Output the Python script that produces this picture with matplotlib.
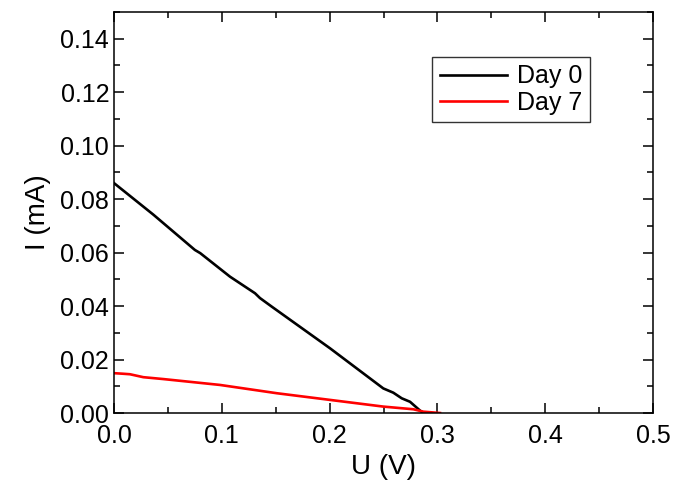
import numpy as np
import matplotlib.pyplot as plt
from matplotlib.ticker import MultipleLocator

plt.rcParams['font.family'] = ['Liberation Sans', 'DejaVu Sans']

## I-U curves
u_day0 = [0.0, 0.0365, 0.075, 0.080, 0.1076, 0.1308, 0.1354, 0.1463, 0.2004, 0.2498, 0.2591, 0.2669, 0.2746, 0.2839, 0.287]
i_day0 = [0.086, 0.0742, 0.0610, 0.0598, 0.0510, 0.0448, 0.0430, 0.0398, 0.0242, 0.0092, 0.0076, 0.0055, 0.0042, 0.0009, 0.0]

u_day7 = [0.0, 0.0080, 0.0148, 0.0272, 0.0457, 0.0983, 0.151, 0.2004, 0.2498, 0.2777, 0.287, 0.3024]
i_day7 = [0.0149, 0.0147, 0.0145, 0.0134, 0.0127, 0.0105, 0.0074, 0.0049, 0.0024, 0.0014, 0.0005, 0.0]

fig = plt.figure(figsize=(6.73, 4.97), dpi=100)
ax = fig.add_axes([0.1694, 0.169, 0.8009, 0.8068])

ax.plot(u_day0, i_day0, color='black', lw=1.9, label='Day 0')
ax.plot(u_day7, i_day7, color='red', lw=1.9, label='Day 7')

ax.set_xlim(0, 0.5)
ax.set_ylim(0, 0.15)
ax.xaxis.set_major_locator(MultipleLocator(0.1))
ax.xaxis.set_minor_locator(MultipleLocator(0.05))
ax.yaxis.set_major_locator(MultipleLocator(0.02))
ax.yaxis.set_minor_locator(MultipleLocator(0.01))
ax.xaxis.set_major_formatter(plt.FormatStrFormatter('%.1f'))
ax.yaxis.set_major_formatter(plt.FormatStrFormatter('%.2f'))

ax.tick_params(which='both', direction='in', top=True, right=True, width=1.1, labelsize=18)
ax.tick_params(which='major', length=7)
ax.tick_params(which='minor', length=4)
ax.tick_params(axis='x', pad=8)
for s in ax.spines.values():
    s.set_linewidth(1.1)

ax.set_xlabel('U (V)', fontsize=20, labelpad=4)
ax.set_ylabel('I (mA)', fontsize=20, labelpad=7)

leg = ax.legend(loc='upper right', bbox_to_anchor=(0.883, 0.888), fontsize=18,
                frameon=True, fancybox=False, edgecolor='black', handlelength=2.7,
                handletextpad=0.4, borderpad=0.3, labelspacing=0.1, borderaxespad=0)
leg.get_frame().set_linewidth(1.0)

plt.savefig('out.png', dpi=100)
